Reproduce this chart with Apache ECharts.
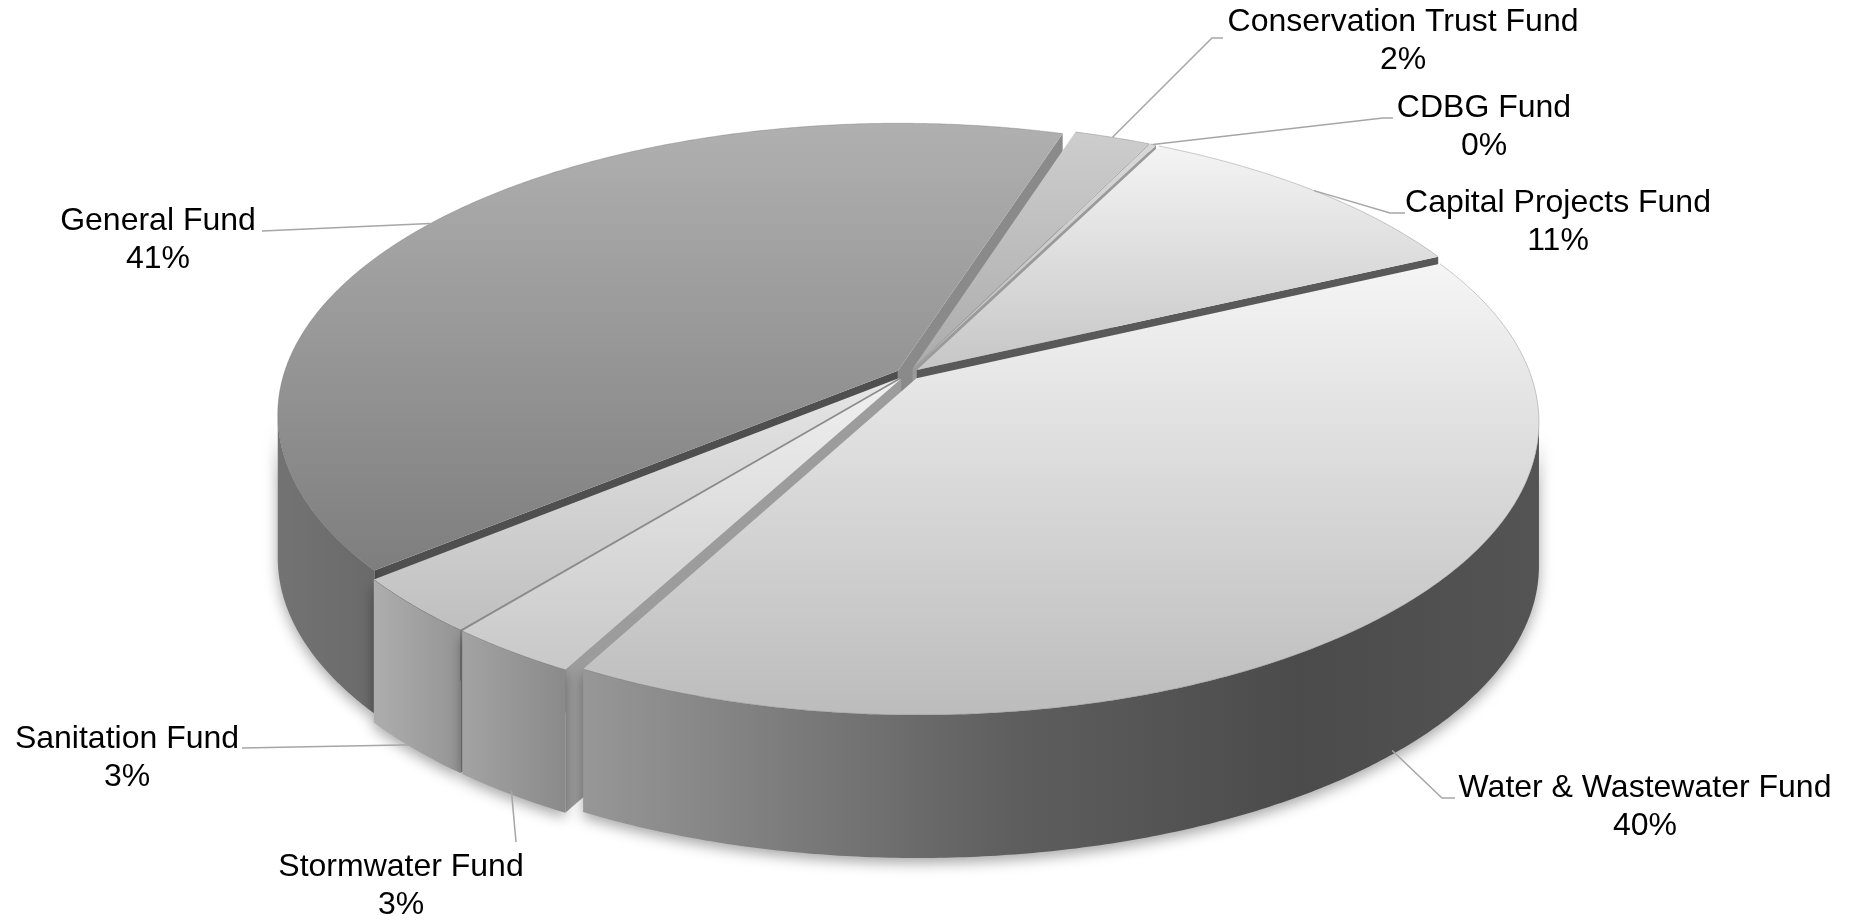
<!DOCTYPE html>
<html><head><meta charset="utf-8">
<script src="https://cdn.jsdelivr.net/npm/echarts@6/dist/echarts.min.js"></script>
<style>html,body{margin:0;padding:0;background:#fff}#chart{width:1853px;height:923px}</style>
</head><body><div id="chart"></div>
<script>
// ---- data ----
const categories = ['General Fund', 'Conservation Trust Fund', 'CDBG Fund', 'Capital Projects Fund', 'Water & Wastewater Fund', 'Stormwater Fund', 'Sanitation Fund'];
const values = [40.9, 2.3, 0.2, 10.6, 39.8, 3.0, 3.2];

// ---- geometry & style (not data) ----
const G = { cx: 908, cy: 374, rx: 614, ry: 285.3, k: 0.149, depth: 143, explode: 0.02, start: 230.5 };
const TOP_COLORS = [
  ['#b0b0b0', '#7e7e7e'], ['#cdcdcd', '#acacac'], ['#d8d8d8', '#c0c0c0'], ['#f4f4f4', '#c6c6c6'],
  ['#f5f5f5', '#bcbcbc'], ['#f0f0f0', '#c8c8c8'], ['#e6e6e6', '#bfbfbf']
];
const WALL_STOPS = [
  [[0, '#737373'], [1, '#6a6a6a']],
  [[0, '#a0a0a0'], [1, '#909090']],
  [[0, '#a0a0a0'], [1, '#909090']],
  [[0, '#808080'], [1, '#666666']],
  [[0, '#979797'], [0.45, '#5e5e5e'], [0.75, '#4b4b4b'], [1, '#545454']],
  [[0, '#a3a3a3'], [1, '#8a8a8a']],
  [[0, '#adadad'], [1, '#959595']]
];
const FACE_COLORS = { start: ['#4f4f4f', '#999', '#999', '#999', '#999', '#9c9c9c', '#8c8c8c'], end: ['#8a8a8a', '#9a9a9a', '#9a9a9a', '#595959', '#666', '#888', '#888'] };
const LABEL_LAYOUT = [
  { x: 158, y: 240, pts: [[262, 231]] },
  { x: 1403, y: 41, pts: [[1212, 38], [1223, 38]] },
  { x: 1484, y: 127, pts: [[1383, 118], [1393, 118]] },
  { x: 1558, y: 222, pts: [[1390, 213], [1405, 213]] },
  { x: 1645, y: 807, pts: [[1442, 798], [1455, 798]] },
  { x: 401, y: 886, pts: [[516, 842]] },
  { x: 127, y: 758, pts: [[242, 748]] }
];

// ---- slice layout from data ----
const total = values.reduce((s, v) => s + v, 0);
const D2R = Math.PI / 180;
let acc = G.start;
const slices = values.map((v) => {
  const span = v / total * 360;
  const a = acc, b = acc + span; acc = b;
  const mid = (a + b) / 2;
  return { a, b, mid, ou: G.explode * Math.sin(mid * D2R), ov: -G.explode * Math.cos(mid * D2R) };
});
const VIS0 = Math.acos(-G.k) / D2R, VIS1 = 360 - VIS0;

function project(s, th, r, dz) {
  const u = s.ou + r * Math.sin(th * D2R), v = s.ov - r * Math.cos(th * D2R);
  const d = 1 - G.k * v;
  return [G.cx + G.rx * u / d, G.cy + G.ry * v / d + (dz || 0)];
}
function arc(s, a, b, dz) {
  const n = Math.max(2, Math.ceil((b - a) / 0.5)); const pts = [];
  for (let j = 0; j <= n; j++) pts.push(project(s, a + (b - a) * j / n, 1, dz));
  return pts;
}
function faceVisible(s, th, isEnd) {
  const n = isEnd ? [Math.cos(th * D2R), Math.sin(th * D2R)] : [-Math.cos(th * D2R), -Math.sin(th * D2R)];
  return n[0] * (0 - s.ou) + n[1] * (1 / G.k - s.ov) > 0;
}
// front-ness of a radial face (v at half radius) and of an outer wall (max v over the arc)
function faceDepth(s, th) { return s.ov - 0.5 * Math.cos(th * D2R); }
function wallDepth(s) {
  let m = Math.max(-Math.cos(s.a * D2R), -Math.cos(s.b * D2R));
  for (let t = 180; t < 720; t += 360) if (t >= s.a && t <= s.b) m = 1;
  return m;
}
// ranks for painter order
const faceList = [];
slices.forEach((s, i) => {
  [[s.a, false], [s.b, true]].forEach(([th, isEnd]) => { if (faceVisible(s, th, isEnd)) faceList.push({ i, th, isEnd, d: faceDepth(s, th) }); });
});
faceList.sort((p, q) => p.d - q.d);
faceList.forEach((f, r) => { f.rank = r; });
const wallRank = [];
slices.map((s, i) => i).sort((p, q) => wallDepth(slices[p]) - wallDepth(slices[q])).forEach((idx, r) => { wallRank[idx] = r; });

function renderItem(params, api) {
  const i = params.dataIndex;
  const s = slices[i];
  const h = G.depth;
  const kids = [];
  // radial faces
  faceList.filter(f => f.i === i).forEach(f => {
    const th = f.th;
    kids.push({ type: 'polygon', z2: f.rank,
      shape: { points: [project(s, th, 0, 0), project(s, th, 1, 0), project(s, th, 1, h), project(s, th, 0, h)] },
      style: { fill: f.isEnd ? FACE_COLORS.end[i] : FACE_COLORS.start[i] } });
  });
  // outer wall (visible front part)
  for (let m = -1; m <= 1; m++) {
    const lo = Math.max(s.a, VIS0 + 360 * m), hi = Math.min(s.b, VIS1 + 360 * m);
    if (hi <= lo) continue;
    const pts = arc(s, lo, hi, 0).concat(arc(s, lo, hi, h).reverse());
    kids.push({ type: 'polygon', z2: 30 + wallRank[i],
      shape: { points: pts },
      style: { fill: new echarts.graphic.LinearGradient(0, 0, 1, 0, WALL_STOPS[i].map(([o, c]) => ({ offset: o, color: c }))),
        shadowBlur: 14, shadowColor: 'rgba(0,0,0,0.35)', shadowOffsetY: 5 } });
  }
  // top face
  const topPts = [project(s, 0, 0, 0)].concat(arc(s, s.a, s.b, 0));
  kids.push({ type: 'polygon', z2: 100 + i,
    shape: { points: topPts },
    style: { fill: new echarts.graphic.LinearGradient(0, 0, 0, 1, [{ offset: 0, color: TOP_COLORS[i][0] }, { offset: 1, color: TOP_COLORS[i][1] }]) } });
  kids.push({ type: 'polyline', z2: 110 + i, shape: { points: arc(s, s.a, s.b, 0) },
    style: { stroke: 'rgba(110,110,110,0.35)', lineWidth: 1, fill: null } });
  // leader + label
  const lay = LABEL_LAYOUT[i];
  const vmid = -Math.cos(s.mid * D2R);
  const anchor = project(s, s.mid, 1, vmid > G.k ? h - 4 : 0);
  kids.push({ type: 'polyline', z2: 200, shape: { points: [anchor].concat(lay.pts) },
    style: { stroke: '#a6a6a6', lineWidth: 1.5, fill: null } });
  const pct = Math.round(values[i] / total * 100);
  kids.push({ type: 'text', z2: 210,
    style: { text: categories[i] + '\n' + pct + '%', x: lay.x, y: lay.y, fill: '#000',
      fontSize: 32, fontFamily: '"Liberation Sans", Arial, sans-serif', align: 'center', verticalAlign: 'middle', lineHeight: 38 } });
  return { type: 'group', children: kids };
}

const chart = echarts.init(document.getElementById('chart'), null, { renderer: 'canvas' });
chart.setOption({
  animation: false,
  backgroundColor: '#ffffff',
  series: [{
    type: 'custom',
    coordinateSystem: 'none',
    renderItem: renderItem,
    silent: true,
    data: values.map((v, i) => ({ name: categories[i], value: [i, v] }))
  }]
});
</script></body></html>
